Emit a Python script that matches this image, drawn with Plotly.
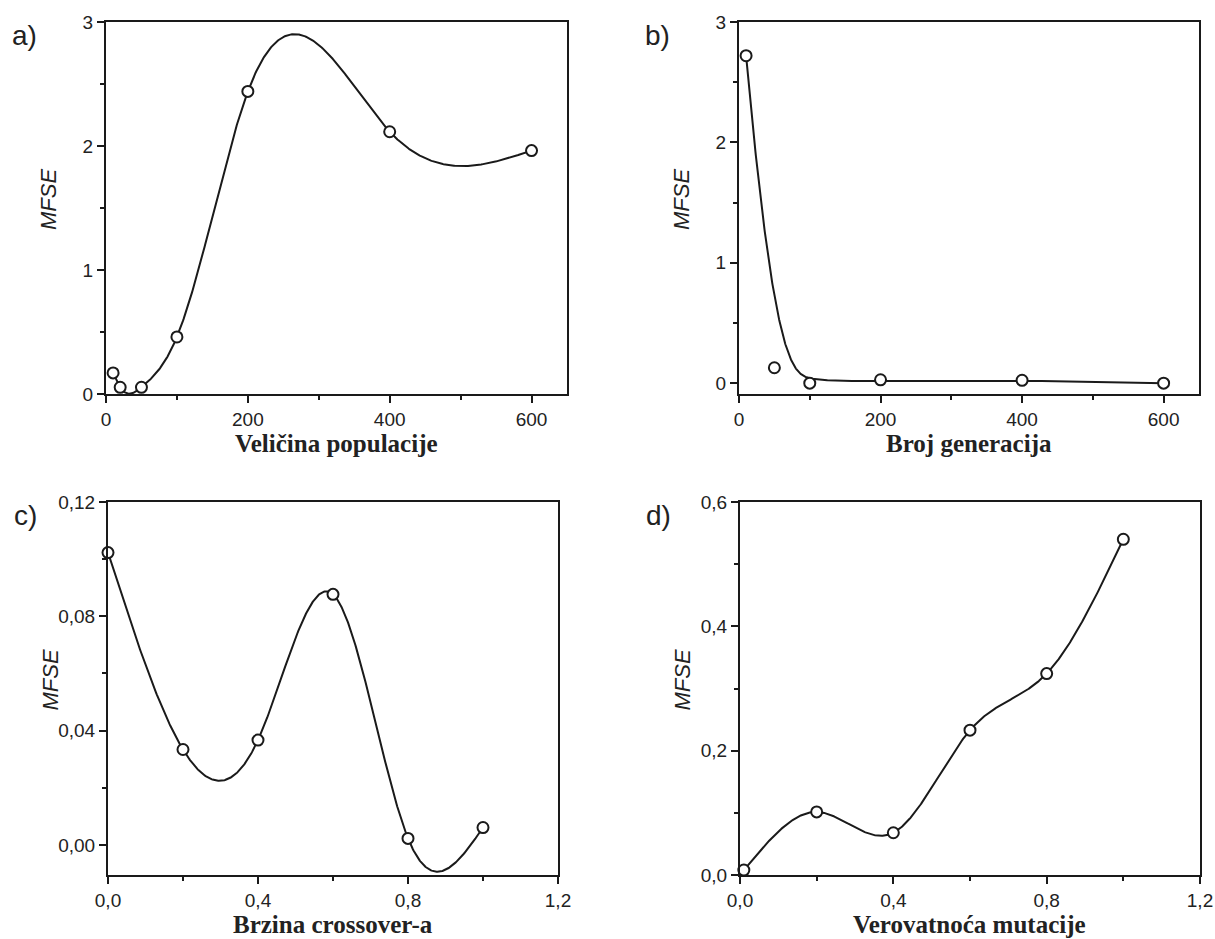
import numpy as np
import plotly.graph_objects as go

# ---- data -------------------------------------------------------------
pop_size = [10, 20, 50, 100, 200, 400, 600]
pop_mfse = [0.17, 0.054, 0.054, 0.46, 2.44, 2.115, 1.963]

generations = [10, 50, 100, 200, 400, 600]
gen_mfse = [2.72, 0.128, 0.0, 0.028, 0.024, 0.0]

crossover_rate = [0.0, 0.2, 0.4, 0.6, 0.8, 1.0]
crossover_mfse = [0.1023, 0.0334, 0.0367, 0.0877, 0.0023, 0.0061]

mutation_prob = [0.01, 0.2, 0.4, 0.6, 0.8, 1.0]
mutation_mfse = [0.008, 0.1015, 0.068, 0.233, 0.324, 0.54]


# ---- smoothing helpers --------------------------------------------------
def natural_spline(x, y, n=600):
    """Natural cubic spline through all points."""
    x = np.asarray(x, float)
    y = np.asarray(y, float)
    h = np.diff(x)
    m = len(x)
    A = np.zeros((m, m))
    r = np.zeros(m)
    A[0, 0] = A[-1, -1] = 1.0
    for i in range(1, m - 1):
        A[i, i - 1] = h[i - 1]
        A[i, i] = 2 * (h[i - 1] + h[i])
        A[i, i + 1] = h[i]
        r[i] = 6 * ((y[i + 1] - y[i]) / h[i] - (y[i] - y[i - 1]) / h[i - 1])
    M = np.linalg.solve(A, r)
    xs = np.linspace(x[0], x[-1], n)
    k = np.clip(np.searchsorted(x, xs) - 1, 0, m - 2)
    t0 = x[k + 1] - xs
    t1 = xs - x[k]
    hk = h[k]
    ys = (M[k] * t0 ** 3 / (6 * hk) + M[k + 1] * t1 ** 3 / (6 * hk)
          + (y[k] / hk - M[k] * hk / 6) * t0
          + (y[k + 1] / hk - M[k + 1] * hk / 6) * t1)
    return xs, ys


def bspline(x, y, degree=3, n=600):
    """Clamped B-spline curve using the points as control polygon."""
    P = np.column_stack([x, y]).astype(float)
    m = len(P)
    inner = np.linspace(0, 1, m - degree + 1)
    knots = np.concatenate([[0] * degree, inner, [1] * degree])
    u = np.linspace(0, 1, n)
    u[-1] = 1 - 1e-12

    def basis(i, p, uu):
        if p == 0:
            return ((knots[i] <= uu) & (uu < knots[i + 1])).astype(float)
        out = np.zeros_like(uu)
        d1 = knots[i + p] - knots[i]
        d2 = knots[i + p + 1] - knots[i + 1]
        if d1 > 0:
            out += (uu - knots[i]) / d1 * basis(i, p - 1, uu)
        if d2 > 0:
            out += (knots[i + p + 1] - uu) / d2 * basis(i + 1, p - 1, uu)
        return out

    B = np.array([basis(i, degree, u) for i in range(m)])
    C = B.T @ P
    return C[:, 0], C[:, 1]


# ---- figure -------------------------------------------------------------
W, H = 1215, 939


def px_x(a, b):
    return [a / W, b / W]


def px_y(top, bottom):
    return [1 - bottom / H, 1 - top / H]


panels = [
    dict(x=pop_size, y=pop_mfse, curve=natural_spline,
         dx=px_x(106, 567), dy=px_y(22, 394),
         xr=[0, 650], yr=[0, 3], xdt=200, ydt=1, xfmt="d", yfmt="d",
         title="Veličina populacije", label="a)"),
    dict(x=generations, y=gen_mfse, curve=bspline,
         dx=px_x(739, 1199), dy=px_y(22, 394),
         xr=[0, 650], yr=[-0.09, 3], xdt=200, ydt=1, xfmt="d", yfmt="d",
         title="Broj generacija", label="b)"),
    dict(x=crossover_rate, y=crossover_mfse, curve=natural_spline,
         dx=px_x(108, 558), dy=px_y(502, 875),
         xr=[0, 1.2], yr=[-0.0105, 0.12], xdt=0.4, ydt=0.04, xfmt=".1f", yfmt=".2f",
         title="Brzina crossover-a", label="c)"),
    dict(x=mutation_prob, y=mutation_mfse, curve=natural_spline,
         dx=px_x(740, 1200), dy=px_y(502, 875),
         xr=[0, 1.2], yr=[0, 0.6], xdt=0.4, ydt=0.2, xfmt=".1f", yfmt=".1f",
         title="Verovatnoća mutacije", label="d)"),
]

fig = go.Figure()
ink = "#1a1a1a"
tick_font = dict(family="Liberation Sans, Arial, sans-serif", size=19, color="#222")

annotations = []
for i, p in enumerate(panels, start=1):
    xa = "x" if i == 1 else f"x{i}"
    ya = "y" if i == 1 else f"y{i}"
    cx, cy = p["curve"](p["x"], p["y"])
    fig.add_trace(go.Scatter(x=cx, y=cy, mode="lines", xaxis=xa, yaxis=ya,
                             line=dict(color=ink, width=2), hoverinfo="skip",
                             showlegend=False))
    fig.add_trace(go.Scatter(x=p["x"], y=p["y"], mode="markers", xaxis=xa, yaxis=ya,
                             marker=dict(symbol="circle", size=11, color="white",
                                         line=dict(color=ink, width=2)),
                             cliponaxis=False, showlegend=False))

    common = dict(showgrid=False, zeroline=False, showline=True, linewidth=2,
                  linecolor=ink, mirror=True, ticks="outside", ticklen=7,
                  tickwidth=2, tickcolor=ink, tickfont=tick_font,
                  automargin=False)
    xkey = "xaxis" if i == 1 else f"xaxis{i}"
    ykey = "yaxis" if i == 1 else f"yaxis{i}"
    fig.update_layout({
        xkey: dict(domain=p["dx"], range=p["xr"], anchor=ya, dtick=p["xdt"],
                   tick0=0, tickformat=p["xfmt"],
                   minor=dict(dtick=p["xdt"] / 2, ticks="outside", ticklen=4,
                              tickwidth=1.5, tickcolor=ink),
                   **common),
        ykey: dict(domain=p["dy"], range=p["yr"], anchor=xa, dtick=p["ydt"],
                   tick0=0, tickformat=p["yfmt"],
                   minor=dict(dtick=p["ydt"] / 2, ticks="outside", ticklen=4,
                              tickwidth=1.5, tickcolor=ink),
                   **common),
    })

    x0, x1 = p["dx"]
    y0, y1 = p["dy"]
    # x-axis title below the tick labels
    annotations.append(dict(text=f"<b>{p['title']}</b>", xref="paper", yref="paper",
                            x=(x0 + x1) / 2, y=y0 - 49 / H, xanchor="center",
                            yanchor="middle", showarrow=False,
                            font=dict(family="Liberation Serif, Times New Roman, serif",
                                      size=25, color="#222")))
    # y-axis title
    annotations.append(dict(text="<i>MFSE</i>", xref="paper", yref="paper",
                            x=x0 - 58 / W, y=(y0 + y1) / 2 + 8 / H, xanchor="center",
                            yanchor="middle", textangle=-90, showarrow=False,
                            font=dict(family="Liberation Sans, Arial, sans-serif",
                                      size=22, color="#222")))
    # panel letter
    annotations.append(dict(text=p["label"], xref="paper", yref="paper",
                            x=x0 - 96 / W, y=y1 - 13 / H, xanchor="left",
                            yanchor="middle", showarrow=False,
                            font=dict(family="Liberation Sans, Arial, sans-serif",
                                      size=28, color="#222")))

fig.update_layout(template="none", width=W, height=H,
                  margin=dict(l=0, r=0, t=0, b=0, pad=0, autoexpand=False),
                  paper_bgcolor="white", plot_bgcolor="white",
                  separators=",.", annotations=annotations, showlegend=False)

fig.write_html("out.html",
               post_script="document.body.style.margin='0';"
                           "document.body.style.overflow='hidden';")
